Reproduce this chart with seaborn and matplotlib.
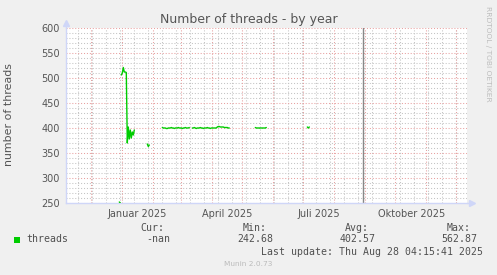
import numpy as np
import pandas as pd
import matplotlib
matplotlib.use("Agg")
import matplotlib.pyplot as plt
from matplotlib.patches import Rectangle
import seaborn as sns

# ---------------- data ----------------
seg_starts = ["2024-12-29", "2024-12-31", "2025-01-26", "2025-02-10",
              "2025-03-12", "2025-05-14", "2025-07-05"]
seg_values = [
    [252, 250],
    [506, 510, 521, 512, 512, 511, 370, 402, 378, 396, 380, 392, 386, 396],
    [368, 363, 366],
    [401, 400, 400, 400, 399, 399, 400, 400, 400, 401, 400, 400, 399, 400,
     400, 400, 401, 400, 400, 400, 399, 400, 400, 401, 400, 400, 400, 401],
    [400, 400, 401, 400, 399, 400, 400, 400, 401, 400, 400, 399, 400, 400,
     400, 401, 400, 400, 399, 400, 400, 400, 400, 400, 400, 402, 403, 403,
     402, 402, 402, 402, 401, 401, 401, 401, 400, 400],
    [401, 400, 400, 400, 400, 400, 400, 400, 400, 400, 400, 401],
    [402, 400, 402],
]
x_labels = ["Januar 2025", "April 2025", "Juli 2025", "Oktober 2025"]
x_label_dates = ["2025-01-16", "2025-04-16", "2025-07-16", "2025-10-17"]
y_ticks = [250, 300, 350, 400, 450, 500, 550, 600]
stat_names = ["Cur:", "Min:", "Avg:", "Max:"]
stat_values = ["-nan", "242.68", "402.57", "562.87"]
last_update = "Last update: Thu Aug 28 04:15:41 2025"
now_marker = "2025-08-29 10:00"

rows = []
for i, (s, vals) in enumerate(zip(seg_starts, seg_values)):
    d0 = pd.Timestamp(s)
    for k, v in enumerate(vals):
        rows.append({"date": d0 + pd.Timedelta(days=k), "threads": v, "segment": i})
df = pd.DataFrame(rows)

# ---------------- figure ----------------
W, H = 497, 275
sns.set_style("white")
plt.rcParams["font.family"] = ["DejaVu Sans"]

fig = plt.figure(figsize=(W / 100, H / 100), dpi=100)
fig.patch.set_facecolor("#F0F0F0")

L, T, R, B = 66, 28, 467, 203
ax = fig.add_axes([L / W, 1 - B / H, (R - L) / W, (B - T) / H])
ax.set_facecolor("white")

jan1 = pd.Timestamp("2025-01-01")
xmin = jan1 - pd.Timedelta(days=56.3)
xmax = xmin + pd.Timedelta(days=(R - L))
ax.set_xlim(xmin, xmax)
ax.set_ylim(250, 600)

minor_col = "#C4C4C4"
major_col = "#E8A0A0"
dot = (0, (1.0, 1.8))
glw = 0.75

# y grid
ax.set_yticks(y_ticks)
ax.set_yticks(np.arange(250, 601, 10), minor=True)
ax.grid(False)
ax.yaxis.grid(True, which="minor", color=minor_col, linestyle=dot, linewidth=glw)
ax.yaxis.grid(True, which="major", color=major_col, linestyle=dot, linewidth=glw)
ax.set_axisbelow(True)

# x grid: biweekly (grey) and month starts (red)
for d in pd.date_range("2024-11-04", "2025-12-31", freq="14D"):
    if xmin < d < xmax:
        ax.axvline(d, color=minor_col, linestyle=dot, linewidth=glw, zorder=0.5)
for d in pd.date_range("2024-11-01", "2025-12-31", freq="MS"):
    if xmin < d < xmax:
        ax.axvline(d, color=major_col, linestyle=dot, linewidth=glw, zorder=0.6)

ax.set_xticks([pd.Timestamp(d) for d in x_label_dates])
ax.set_xticklabels(x_labels)
ax.tick_params(axis="x", length=0, pad=4, labelsize=7, labelcolor="#555555")
ax.tick_params(axis="y", which="both", length=0, pad=4.5, labelsize=7, labelcolor="#555555")

# now line
ax.axvline(pd.Timestamp(now_marker), color="#888888", linewidth=1.0, zorder=2)

# data
sns.lineplot(data=df, x="date", y="threads", units="segment", estimator=None,
             color="#00CC00", linewidth=1.0, ax=ax, legend=False, zorder=3)
ax.set_xlabel("")
ax.set_ylabel("")

# axes
for s in ["top", "right"]:
    ax.spines[s].set_visible(False)
axis_col = "#CFD6F8"
for s in ["left", "bottom"]:
    ax.spines[s].set_color(axis_col)
    ax.spines[s].set_linewidth(1.0)
ax.plot([0], [1.03], marker="^", color=axis_col, markersize=4, transform=ax.transAxes, clip_on=False)
ax.plot([1.012], [0], marker=">", color=axis_col, markersize=4, transform=ax.transAxes, clip_on=False)
ax.plot([0, 0], [1.0, 1.03], color=axis_col, lw=1, transform=ax.transAxes, clip_on=False)
ax.plot([1.0, 1.012], [0, 0], color=axis_col, lw=1, transform=ax.transAxes, clip_on=False)

def fx(x):
    return x / W

def fy(y):
    return 1 - y / H

fig.text(fx(248.5), fy(19.5), "Number of threads - by year", ha="center", va="center",
         fontsize=9, color="#555555")
fig.text(fx(9), fy(115), "number of threads", rotation=90, ha="center", va="center",
         fontsize=7.9, color="#555555")
fig.text(fx(488.3), fy(53.5), "RRDTOOL / TOBI OETIKER", rotation=270, ha="center", va="center",
         fontsize=5.4, color="#BDBDBD")

mono = "DejaVu Sans Mono"
ms = 7.15
tc = "#505050"
for name, xpos in zip(stat_names, [140, 242.7, 345, 446.7]):
    fig.text(fx(xpos), fy(228.3), name, family=mono, fontsize=ms, color=tc, ha="left", va="center")
fig.patches.append(Rectangle((fx(14), fy(242.5)), 6 / W, 6 / H, transform=fig.transFigure,
                             facecolor="#00CC00", edgecolor="none"))
fig.text(fx(26.7), fy(239.3), "threads", family=mono, fontsize=ms, color=tc, ha="left", va="center")
for val, xpos in zip(stat_values, [146.7, 237.3, 339.3, 441]):
    fig.text(fx(xpos), fy(239.3), val, family=mono, fontsize=ms, color=tc, ha="left", va="center")
fig.text(fx(261), fy(251.7), last_update, family=mono, fontsize=ms, color=tc, ha="left", va="center")
fig.text(fx(248), fy(264.3), "Munin 2.0.73", fontsize=5.3, color="#BBBBBB", ha="center", va="center")

fig.savefig("out.png", dpi=100, facecolor=fig.get_facecolor())
